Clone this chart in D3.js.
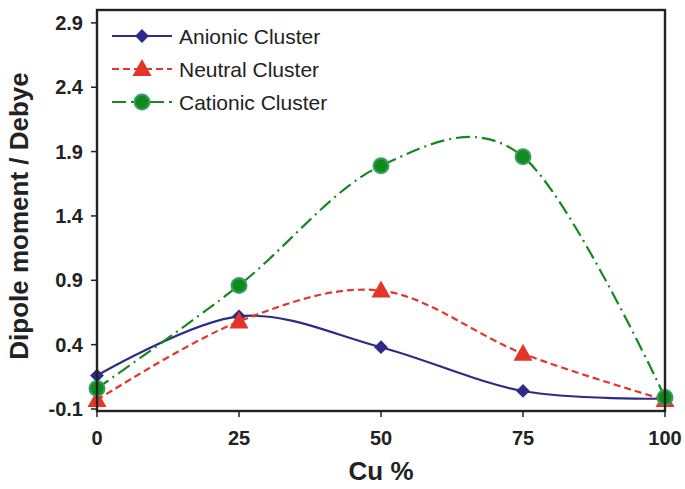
<!DOCTYPE html>
<html lang="en">
<head>
<meta charset="UTF-8">
<script src="https://cdn.jsdelivr.net/npm/d3@7"></script>
<style>
  body { margin: 0; background: #fff; }
  text { font-family: "Liberation Sans", Arial, sans-serif; }
</style>
</head>
<body>
<script>
  // Cu content (%)
  var cuPercent = [0, 25, 50, 75, 100];
  var anionic = [0.16, 0.62, 0.38, 0.04, -0.02];
  var neutral = [-0.03, 0.58, 0.82, 0.33, -0.03];
  var cationic = [0.06, 0.86, 1.79, 1.86, -0.01];
  var yTicks = [-0.1, 0.4, 0.9, 1.4, 1.9, 2.4, 2.9];
  var xTicks = [0, 25, 50, 75, 100];

  var width = 685, height = 489;
  var plotLeft = 97, plotRight = 665, plotTop = 10, plotBottom = 411;

  var x = d3.scaleLinear().domain([0, 100]).range([plotLeft, plotRight]);
  var y = d3.scaleLinear().domain([-0.1, 3.0]).range([409, plotTop]);

  var svg = d3.select('body').append('svg')
    .attr('width', width)
    .attr('height', height);

  var series = [
    {name: 'Anionic Cluster', values: anionic, color: '#2e2a88', dash: null, marker: 'diamond'},
    {name: 'Neutral Cluster', values: neutral, color: '#e5352b', dash: '7,4', marker: 'triangle'},
    {name: 'Cationic Cluster', values: cationic, color: '#14891f', dash: '14,5,2,5', marker: 'circle'}
  ];

  var line = d3.line()
    .x(function(d) { return x(d[0]); })
    .y(function(d) { return y(d[1]); })
    .curve(d3.curveCardinal.tension(0));

  function drawMarker(g, s, cx, cy) {
    if (s.marker == 'diamond') {
      g.append('path')
        .attr('d', d3.symbol().type(d3.symbolSquare).size(95)())
        .attr('transform', 'translate(' + cx + ',' + cy + ') rotate(45)')
        .attr('fill', s.color);
    } else if (s.marker == 'triangle') {
      g.append('path')
        .attr('d', 'M0,-10L9.5,7L-9.5,7Z')
        .attr('transform', 'translate(' + cx + ',' + cy + ')')
        .attr('fill', s.color);
    } else {
      g.append('circle')
        .attr('cx', cx).attr('cy', cy).attr('r', 7.5)
        .attr('fill', '#0f8a1c')
        .attr('stroke', '#3c9e63')
        .attr('stroke-width', 2);
    }
  }

  // lines
  series.forEach(function(s) {
    var pts = cuPercent.map(function(c, i) { return [c, s.values[i]]; });
    svg.append('path')
      .attr('d', line(pts))
      .attr('fill', 'none')
      .attr('stroke', s.color)
      .attr('stroke-width', 2.2)
      .attr('stroke-dasharray', s.dash);
  });

  // markers
  series.forEach(function(s) {
    var g = svg.append('g');
    cuPercent.forEach(function(c, i) {
      drawMarker(g, s, x(c), y(s.values[i]));
    });
  });

  // frame
  svg.append('rect')
    .attr('x', plotLeft).attr('y', plotTop)
    .attr('width', plotRight - plotLeft).attr('height', plotBottom - plotTop)
    .attr('fill', 'none')
    .attr('stroke', '#222')
    .attr('stroke-width', 2.4);

  // y ticks
  svg.selectAll('.ytick').data(yTicks).enter().append('line')
    .attr('x1', plotLeft - 6).attr('x2', plotLeft)
    .attr('y1', function(d) { return y(d); })
    .attr('y2', function(d) { return y(d); })
    .attr('stroke', '#222').attr('stroke-width', 1.5);
  svg.selectAll('.ylab').data(yTicks).enter().append('text')
    .attr('x', 83)
    .attr('y', function(d) { return y(d) + 7; })
    .attr('text-anchor', 'end')
    .attr('font-size', 20).attr('font-weight', 'bold').attr('fill', '#222')
    .text(function(d) { return d.toFixed(1); });

  // x ticks
  svg.selectAll('.xtick').data(xTicks).enter().append('line')
    .attr('x1', function(d) { return x(d); })
    .attr('x2', function(d) { return x(d); })
    .attr('y1', plotBottom).attr('y2', plotBottom + 6)
    .attr('stroke', '#222').attr('stroke-width', 1.5);
  svg.selectAll('.xlab').data(xTicks).enter().append('text')
    .attr('x', function(d) { return x(d); })
    .attr('y', 445)
    .attr('text-anchor', 'middle')
    .attr('font-size', 20).attr('font-weight', 'bold').attr('fill', '#222')
    .text(function(d) { return d; });

  // axis titles
  svg.append('text')
    .attr('x', 381).attr('y', 480)
    .attr('text-anchor', 'middle')
    .attr('font-size', 26).attr('font-weight', 'bold').attr('fill', '#222')
    .text('Cu %');
  svg.append('text')
    .attr('transform', 'translate(28,216) rotate(-90)')
    .attr('text-anchor', 'middle')
    .attr('font-size', 26).attr('font-weight', 'bold').attr('fill', '#222')
    .text('Dipole moment / Debye');

  // legend
  var legend = svg.append('g');
  series.forEach(function(s, i) {
    var ly = 36 + i * 33;
    legend.append('line')
      .attr('x1', 112).attr('x2', 172)
      .attr('y1', ly).attr('y2', ly)
      .attr('stroke', s.color).attr('stroke-width', 2)
      .attr('stroke-dasharray', s.dash ? (i == 1 ? '7,4' : '14,5') : null);
    drawMarker(legend, s, 142, ly);
    legend.append('text')
      .attr('x', 179).attr('y', ly + 7.5)
      .attr('font-size', 21).attr('fill', '#222')
      .text(s.name);
  });
</script>
</body>
</html>
